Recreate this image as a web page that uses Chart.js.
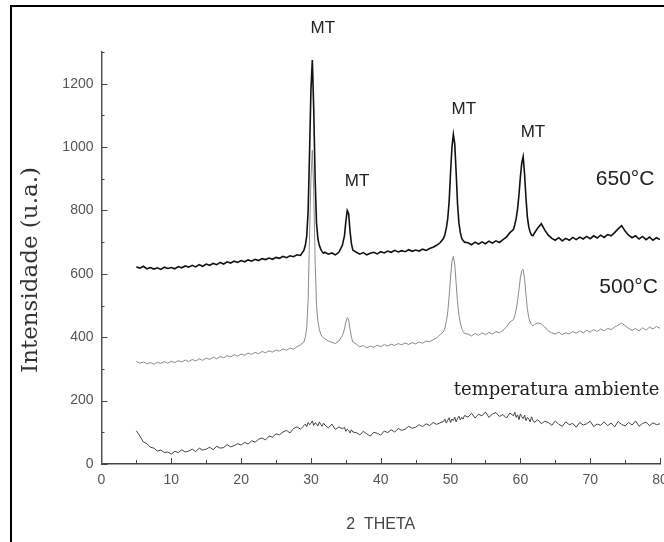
<!DOCTYPE html>
<html>
<head>
<meta charset="utf-8">
<script src="https://cdn.jsdelivr.net/npm/chart.js@4.4.1/dist/chart.umd.min.js"></script>
<style>
  html, body { margin: 0; padding: 0; background: #fff; overflow: hidden; }
  #frame { position: absolute; left: 10px; top: 5px; width: 720px; height: 620px;
           border-left: 2px solid #000; border-top: 2px solid #000; }
  #xrd { position: absolute; left: 0; top: 0; }
</style>
</head>
<body>
<div id="frame"></div>
<canvas id="xrd" width="664" height="542"></canvas>
<script>
// 2 theta (graus) - passo mais fino perto dos picos
const theta = [
  5, 5.5, 6, 6.5, 7, 7.5, 8, 8.5, 9, 9.5, 10, 10.5, 11, 11.5, 12, 12.5, 13, 13.5, 14, 14.5,
  15, 15.5, 16, 16.5, 17, 17.5, 18, 18.5, 19, 19.5, 20, 20.5, 21, 21.5, 22, 22.5, 23, 23.5, 24, 24.5,
  25, 25.5, 26, 26.5, 27, 27.5, 28, 28.5,
  29, 29.2, 29.4, 29.6, 29.8, 30, 30.2, 30.4, 30.6, 30.8, 31, 31.2, 31.4, 31.6, 31.8,
  32, 32.5, 33, 33.5, 34, 34.5,
  34.8, 35, 35.2, 35.4, 35.6, 35.8, 36,
  36.5, 37, 37.5, 38, 38.5, 39, 39.5, 40, 40.5, 41, 41.5, 42, 42.5, 43, 43.5, 44, 44.5, 45, 45.5, 46,
  46.5, 47, 47.5, 48, 48.5,
  49, 49.2, 49.4, 49.6, 49.8, 50, 50.2, 50.4, 50.6, 50.8, 51, 51.2, 51.4, 51.6, 51.8, 52,
  52.5, 53, 53.5, 54, 54.5, 55, 55.5, 56, 56.5, 57, 57.5, 58, 58.5,
  59, 59.2, 59.4, 59.6, 59.8, 60, 60.2, 60.4, 60.6, 60.8, 61, 61.2, 61.4, 61.6, 61.8, 62,
  62.5, 63, 63.5, 64, 64.5, 65, 65.5, 66, 66.5, 67, 67.5, 68, 68.5, 69, 69.5, 70, 70.5, 71, 71.5, 72,
  72.5, 73, 73.5, 74, 74.5, 75, 75.5, 76, 76.5, 77, 77.5, 78, 78.5, 79, 79.5, 80
];

const int650 = [
  622, 618, 624, 616, 620, 615, 619, 614, 621, 617, 620, 616, 623, 619, 625, 621, 627, 622, 629, 624,
  631, 627, 633, 629, 636, 631, 638, 634, 640, 636, 642, 638, 644, 640, 646, 642, 648, 645, 650, 646,
  652, 649, 655, 651, 657, 654, 660, 658,
  675, 690, 720, 800, 980, 1180, 1275, 1120, 900, 760, 710, 690, 678, 670, 665,
  668, 662, 666, 660, 668, 690,
  720, 765, 800, 790, 735, 695, 675,
  668, 662, 667, 660, 665, 668, 663, 670, 666, 672, 668, 674, 669, 673, 670, 676, 671, 675, 672, 678,
  674, 680, 684, 690, 698,
  712, 725, 745, 775, 830, 920, 1000, 1040, 1010, 920, 820, 760, 730, 712, 705, 700,
  698, 692, 700, 694, 701, 695, 703, 697, 704, 699, 708, 716, 730,
  740, 755, 775, 805, 850, 905, 950, 970, 915, 840, 780, 748, 732, 722, 720, 728,
  745, 758, 738, 722, 712, 706, 714, 704, 712, 706, 715, 708, 716, 710, 718, 711, 720, 713, 722, 715,
  724, 720, 730, 742, 752, 735, 722, 714, 720, 710, 718, 708, 716, 706, 714, 708
];

const int500 = [
  324, 318, 322, 316, 320, 315, 321, 317, 323, 318, 324, 320, 326, 322, 328, 323, 330, 325, 332, 327,
  334, 330, 337, 332, 339, 335, 342, 338, 345, 340, 347, 343, 350, 346, 352, 348, 355, 351, 357, 353,
  360, 356, 363, 359, 366, 362, 370, 376,
  385, 400, 430, 520, 720, 900, 990, 860, 640, 500, 450, 425, 410, 402, 398,
  395, 388, 384, 380, 388, 405,
  425, 448, 462, 455, 425, 400, 385,
  378, 370, 374, 366, 372, 368, 375, 370, 377, 372, 378, 374, 380, 376, 382, 377, 383, 379, 385, 381,
  388, 386, 392, 398, 408,
  418, 430, 450, 480, 530, 590, 640, 655, 630, 570, 510, 470, 445, 428, 418, 412,
  410, 404, 412, 406, 414, 408, 415, 410, 418, 414, 422, 432, 448,
  455, 468, 488, 515, 550, 588, 610, 614, 585, 535, 490, 462, 448, 440, 436, 440,
  445, 442, 432, 420, 414, 410, 416, 408, 414, 410, 418, 412, 420, 414, 422, 416, 424, 418, 426, 420,
  428, 424, 432, 438, 445, 436, 428, 422, 428, 420, 430, 422, 432, 426, 434, 428
];

const intAmb = [
  105, 88, 70, 64, 53, 50, 41, 44, 36, 38, 31, 40, 36, 45, 38, 41, 47, 39, 50, 44,
  47, 53, 45, 56, 50, 52, 61, 54, 58, 64, 60, 68, 63, 73, 69, 78, 82, 76, 88, 85,
  95, 92, 101, 106, 98, 112, 117, 110,
  121, 126, 118, 131, 124, 128, 136, 122, 130, 127, 120, 133, 125, 119, 129,
  123, 114, 126, 109, 117, 111,
  116, 103, 110, 106, 98, 108, 101,
  99, 92, 103, 95, 88, 100, 97, 91, 104, 99, 108, 101, 112, 106, 110, 119, 113, 116, 124, 118,
  127, 121, 131, 125, 130,
  134, 141, 129, 138, 146, 131, 142, 137, 148, 133, 144, 151, 139, 147, 142, 153,
  148, 160, 145, 157, 152, 164, 147, 158, 162, 150, 156, 145, 161,
  152, 163, 147, 155, 140, 158, 149, 143, 154, 137, 147, 142, 133, 149, 138, 131,
  140, 127, 135, 131, 122, 136, 125, 119, 133, 124, 128, 116, 131, 123, 127, 135, 118, 126, 122, 133,
  121, 129, 117, 134, 125, 120, 131, 123, 136, 119, 128, 132, 121, 130, 124, 127
];

const xTicks = [0, 10, 20, 30, 40, 50, 60, 70, 80];
const yTicks = [0, 200, 400, 600, 800, 1000, 1200];

[int650, int500, intAmb].forEach(a => {
  if (a.length !== theta.length) throw new Error('tamanho errado: ' + a.length + ' vs ' + theta.length);
});

const pontos = ys => theta.map((t, i) => ({ x: t, y: ys[i] }));

// textos do grafico em coordenadas de dados
const notas = [
  { text: 'MT', x: 31.7, y: 1376, font: '17px "Liberation Sans", Arial', align: 'center' },
  { text: 'MT', x: 36.6, y: 891, font: '17px "Liberation Sans", Arial', align: 'center' },
  { text: 'MT', x: 51.9, y: 1118, font: '17px "Liberation Sans", Arial', align: 'center' },
  { text: 'MT', x: 61.8, y: 1046, font: '17px "Liberation Sans", Arial', align: 'center' },
  { text: '650°C', x: 79.2, y: 898, font: '21px "Liberation Sans", Arial', align: 'right' },
  { text: '500°C', x: 79.7, y: 557, font: '21px "Liberation Sans", Arial', align: 'right' },
  { text: 'temperatura ambiente', x: 79.9, y: 233, font: '18px "DejaVu Serif", serif', align: 'right' }
];

const tickFont = { family: '"Liberation Sans", Arial, sans-serif', size: 14 };

// marcas dos eixos desenhadas para dentro, rotulo do eixo y e anotacoes
const extras = {
  id: 'extras',
  afterDraw(chart) {
    const { ctx, chartArea, scales: { x, y } } = chart;
    ctx.save();
    ctx.strokeStyle = '#444';
    ctx.lineWidth = 1;
    ctx.beginPath();
    y.ticks.forEach(t => {
      const py = Math.round(y.getPixelForValue(t.value)) + 0.5;
      const len = t.value % 200 === 0 ? 6 : 3;
      ctx.moveTo(chartArea.left, py);
      ctx.lineTo(chartArea.left + len, py);
    });
    x.ticks.forEach(t => {
      if (t.value === 0) return;
      const px = Math.round(x.getPixelForValue(t.value)) + 0.5;
      const len = t.value % 10 === 0 ? 6 : 4;
      ctx.moveTo(px, chartArea.bottom);
      ctx.lineTo(px, chartArea.bottom - len);
    });
    ctx.stroke();

    ctx.fillStyle = '#222';
    ctx.textBaseline = 'middle';
    notas.forEach(n => {
      ctx.font = n.font;
      ctx.textAlign = n.align;
      ctx.fillText(n.text, x.getPixelForValue(n.x), y.getPixelForValue(n.y));
    });

    ctx.translate(31, 270);
    ctx.rotate(-Math.PI / 2);
    ctx.textAlign = 'center';
    ctx.font = '23px "DejaVu Serif", serif';
    ctx.fillStyle = '#333';
    ctx.fillText('Intensidade (u.a.)', 0, 0);
    ctx.restore();
  }
};

new Chart(document.getElementById('xrd'), {
  type: 'line',
  data: {
    datasets: [
      { label: '650°C', data: pontos(int650), borderColor: '#111', borderWidth: 1.6 },
      { label: '500°C', data: pontos(int500), borderColor: '#8a8a8a', borderWidth: 1 },
      { label: 'temperatura ambiente', data: pontos(intAmb), borderColor: '#444', borderWidth: 1 }
    ]
  },
  options: {
    responsive: false,
    devicePixelRatio: 1,
    animation: false,
    events: [],
    layout: { padding: { top: 52, right: 4, bottom: 0, left: 0 } },
    elements: { point: { radius: 0 }, line: { tension: 0 } },
    plugins: { legend: { display: false }, tooltip: { enabled: false } },
    scales: {
      x: {
        type: 'linear',
        min: 0, max: 80,
        grid: { display: false, drawTicks: false },
        border: { display: true, color: '#444', width: 1.5 },
        ticks: {
          stepSize: 5, autoSkip: false, maxRotation: 0, padding: 8,
          color: '#555', font: tickFont,
          callback: v => xTicks.includes(v) ? v : ''
        },
        title: {
          display: true, text: '2  THETA', color: '#444',
          font: { family: '"Liberation Sans", Arial, sans-serif', size: 16 },
          padding: { top: 0, bottom: 8 }
        },
        afterFit(s) { s.height = 78; s.paddingLeft = 0; s.paddingRight = 0; }
      },
      y: {
        min: 0, max: 1300,
        grid: { display: false, drawTicks: false },
        border: { display: true, color: '#555', width: 1.5 },
        ticks: {
          stepSize: 100, autoSkip: false, padding: 8,
          color: '#555', font: tickFont,
          callback: v => yTicks.includes(v) ? v : ''
        },
        afterFit(s) { s.width = 101.5; s.paddingTop = 0; s.paddingBottom = 0; }
      }
    }
  },
  plugins: [extras]
});
</script>
</body>
</html>
